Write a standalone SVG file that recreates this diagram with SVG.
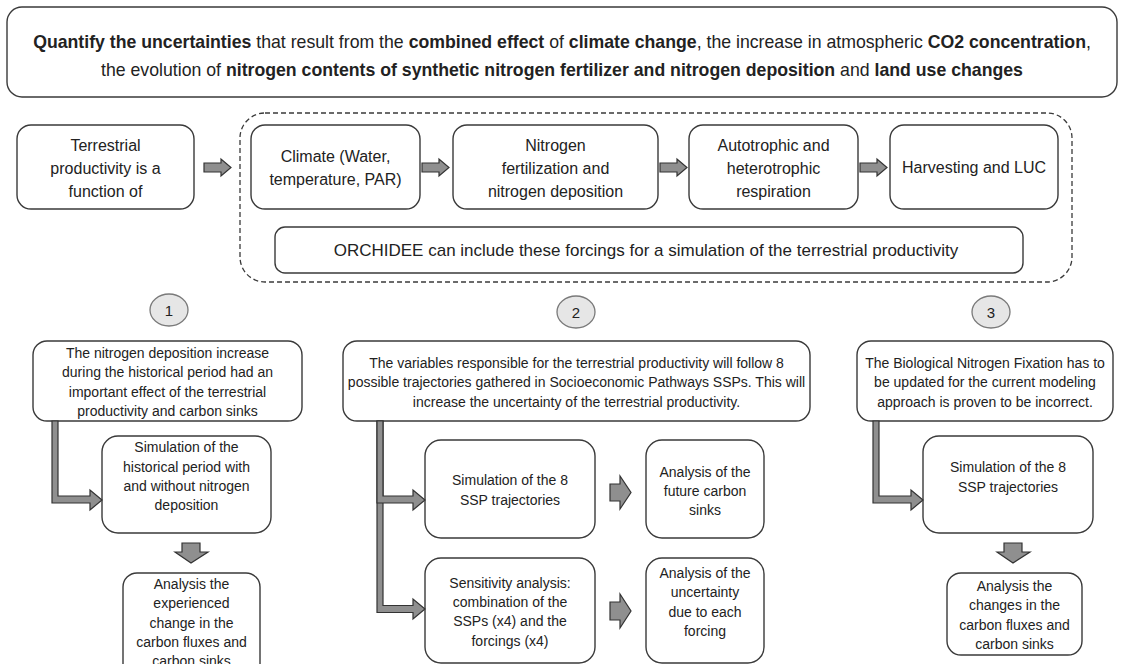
<svg xmlns="http://www.w3.org/2000/svg" width="1124" height="664" viewBox="0 0 1124 664">
<style>
.box{fill:#fff;stroke:#3a3a3a;stroke-width:1.4}
.dash{fill:none;stroke:#3a3a3a;stroke-width:1.3;stroke-dasharray:5 3}
.arr{fill:#8f8f8f;stroke:#333;stroke-width:1.2;stroke-linejoin:miter}
.circ{fill:#e6e6e6;stroke:#7a7a7a;stroke-width:1.3}
text{font-family:"Liberation Sans",Arial,sans-serif;fill:#222;text-anchor:middle}
.t16{font-size:16px}
.t17{font-size:17px}
.t14{font-size:14px}
.t15{font-size:15px}
.title{font-size:17.7px}
.b{font-weight:bold}
</style>
<rect width="1124" height="664" fill="#fff"/>
<g id="title">
<rect class="box" x="7" y="7" width="1110" height="90" rx="15"/>
<text class="title" x="562" y="48"><tspan class="b">Quantify the uncertainties</tspan> that result from the <tspan class="b">combined effect</tspan> of <tspan class="b">climate change</tspan>, the increase in atmospheric <tspan class="b">CO2 concentration</tspan>,</text>
<text class="title" x="562" y="76">the evolution of <tspan class="b">nitrogen contents of synthetic nitrogen fertilizer and nitrogen deposition</tspan> and <tspan class="b">land use changes</tspan></text>
</g>
<g id="forcings-group">
<rect class="dash" x="240" y="113" width="832" height="169" rx="25"/>
</g>
<g id="terrestrial">
<rect class="box" x="17" y="125" width="177" height="84" rx="14"/>
<text class="t16" x="105.5" y="151">Terrestrial</text>
<text class="t16" x="105.5" y="174">productivity is a</text>
<text class="t16" x="105.5" y="197">function of</text>
</g>
<g id="climate">
<rect class="box" x="251" y="125" width="169" height="84" rx="14"/>
<text class="t16" x="335.5" y="162">Climate (Water,</text>
<text class="t16" x="335.5" y="185">temperature, PAR)</text>
</g>
<g id="nitrogen">
<rect class="box" x="453" y="125" width="205" height="84" rx="14"/>
<text class="t16" x="555.5" y="151">Nitrogen</text>
<text class="t16" x="555.5" y="174">fertilization and</text>
<text class="t16" x="555.5" y="197">nitrogen deposition</text>
</g>
<g id="respiration">
<rect class="box" x="689" y="125" width="169" height="84" rx="14"/>
<text class="t16" x="773.5" y="151">Autotrophic and</text>
<text class="t16" x="773.5" y="174">heterotrophic</text>
<text class="t16" x="773.5" y="197">respiration</text>
</g>
<g id="harvesting">
<rect class="box" x="890" y="125" width="168" height="84" rx="14"/>
<text class="t16" x="974" y="173">Harvesting and LUC</text>
</g>
<g id="orchidee">
<rect class="box" x="275" y="227" width="748" height="46" rx="10"/>
<text class="t17" x="646" y="256">ORCHIDEE can include these forcings for a simulation of the terrestrial productivity</text>
</g>
<g id="circle1">
<ellipse class="circ" cx="169" cy="310" rx="19" ry="16"/>
<text class="t15" x="169" y="315.5">1</text>
</g>
<g id="circle2">
<ellipse class="circ" cx="576" cy="312" rx="19" ry="16"/>
<text class="t15" x="576" y="317.5">2</text>
</g>
<g id="circle3">
<ellipse class="circ" cx="991" cy="312" rx="19" ry="16"/>
<text class="t15" x="991" y="317.5">3</text>
</g>
<g id="box1a">
<rect class="box" x="33" y="341" width="269" height="80" rx="14"/>
<text class="t14" x="167.5" y="358">The nitrogen deposition increase</text>
<text class="t14" x="167.5" y="377">during the historical period had an</text>
<text class="t14" x="167.5" y="397">important effect of the terrestrial</text>
<text class="t14" x="167.5" y="416">productivity and carbon sinks</text>
</g>
<g id="box1b">
<rect class="box" x="102" y="436" width="169" height="97" rx="16"/>
<text class="t14" x="186.5" y="452">Simulation of the</text>
<text class="t14" x="186.5" y="472">historical period with</text>
<text class="t14" x="186.5" y="491">and without nitrogen</text>
<text class="t14" x="186.5" y="510">deposition</text>
</g>
<g id="box1c">
<rect class="box" x="123" y="573" width="137" height="110" rx="14"/>
<text class="t14" x="191.5" y="589">Analysis the</text>
<text class="t14" x="191.5" y="608">experienced</text>
<text class="t14" x="191.5" y="628">change in the</text>
<text class="t14" x="191.5" y="647">carbon fluxes and</text>
<text class="t14" x="191.5" y="666">carbon sinks</text>
</g>
<g id="box2a">
<rect class="box" x="343" y="341" width="467" height="80" rx="14"/>
<text class="t14" x="576.5" y="368">The variables responsible for the terrestrial productivity will follow 8</text>
<text class="t14" x="576.5" y="387">possible trajectories gathered in Socioeconomic Pathways SSPs. This will</text>
<text class="t14" x="576.5" y="407">increase the uncertainty of the terrestrial productivity.</text>
</g>
<g id="box2b">
<rect class="box" x="425" y="440" width="170" height="98" rx="16"/>
<text class="t14" x="510" y="485">Simulation of the 8</text>
<text class="t14" x="510" y="505">SSP trajectories</text>
</g>
<g id="box2c">
<rect class="box" x="425" y="558" width="170" height="105" rx="16"/>
<text class="t14" x="510" y="588">Sensitivity analysis:</text>
<text class="t14" x="510" y="607">combination of the</text>
<text class="t14" x="510" y="626">SSPs (x4) and the</text>
<text class="t14" x="510" y="646">forcings (x4)</text>
</g>
<g id="box2d">
<rect class="box" x="646" y="440" width="118" height="98" rx="16"/>
<text class="t14" x="705" y="477">Analysis of the</text>
<text class="t14" x="705" y="496">future carbon</text>
<text class="t14" x="705" y="515">sinks</text>
</g>
<g id="box2e">
<rect class="box" x="646" y="558" width="118" height="105" rx="16"/>
<text class="t14" x="705" y="578">Analysis of the</text>
<text class="t14" x="705" y="597">uncertainty</text>
<text class="t14" x="705" y="617">due to each</text>
<text class="t14" x="705" y="636">forcing</text>
</g>
<g id="box3a">
<rect class="box" x="857" y="341" width="256" height="80" rx="14"/>
<text class="t14" x="985" y="368">The Biological Nitrogen Fixation has to</text>
<text class="t14" x="985" y="387">be updated for the current modeling</text>
<text class="t14" x="985" y="407">approach is proven to be incorrect.</text>
</g>
<g id="box3b">
<rect class="box" x="923" y="436" width="170" height="97" rx="16"/>
<text class="t14" x="1008" y="472">Simulation of the 8</text>
<text class="t14" x="1008" y="492">SSP trajectories</text>
</g>
<g id="box3c">
<rect class="box" x="947" y="573" width="135" height="82" rx="14"/>
<text class="t14" x="1014.5" y="591">Analysis the</text>
<text class="t14" x="1014.5" y="610">changes in the</text>
<text class="t14" x="1014.5" y="630">carbon fluxes and</text>
<text class="t14" x="1014.5" y="649">carbon sinks</text>
</g>
<g id="connectors">
<polygon class="arr" points="204,163 221,163 221,159 231,167.5 221,176 221,172 204,172"/>
<polygon class="arr" points="422,163 439,163 439,159 449,167.5 439,176 439,172 422,172"/>
<polygon class="arr" points="660,163 677,163 677,159 687,167.5 677,176 677,172 660,172"/>
<polygon class="arr" points="860,163 877,163 877,159 887,167.5 877,176 877,172 860,172"/>
<polygon class="arr" points="52,421 58,421 58,496 90,496 90,490 102,500 90,510 90,503 52,503"/>
<polygon class="arr" points="182,543 200,543 200,552 208,552 191,563 175,552 182,552"/>
<polygon class="arr" points="873,421 879,421 879,496 911,496 911,490 923,500 911,510 911,503 873,503"/>
<polygon class="arr" points="1004,543 1022,543 1022,552 1030,552 1013,563 997,552 1004,552"/>
<polygon class="arr" points="377,421 383,421 383,605.5 413,605.5 413,599 425,609 413,619 413,612.5 377,612.5"/>
<polygon class="arr" points="377,421 383,421 383,496 413,496 413,490 425,500 413,510 413,503 377,503"/>
<polygon class="arr" points="610,484 620,484 620,476 631,492.5 620,509 620,501 610,501"/>
<polygon class="arr" points="610,602 620,602 620,594 631,611 620,628 620,620 610,620"/>
</g>
</svg>
